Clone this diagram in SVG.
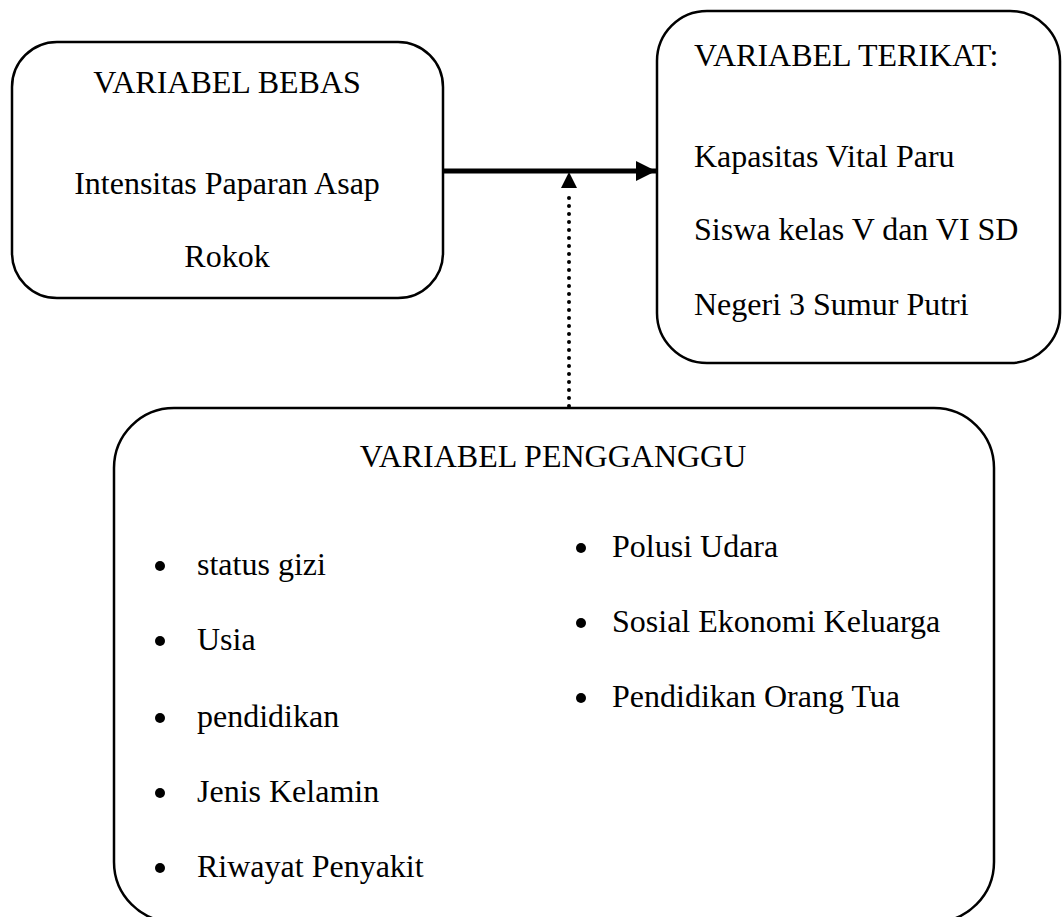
<svg xmlns="http://www.w3.org/2000/svg" width="1062" height="917" viewBox="0 0 1062 917">
<style>
.box{fill:#fff;stroke:#000;stroke-width:2.5}
text{font-family:"Liberation Serif","Times New Roman",serif;font-size:32px;fill:#000}
.c{text-anchor:middle}
.bul{fill:#000}
</style>
<defs>
<marker id="ah" viewBox="0 0 10 10" refX="10" refY="5" markerWidth="4" markerHeight="4" orient="auto" markerUnits="strokeWidth">
<path d="M0,0 L10,5 L0,10 Z" fill="#000"/>
</marker>
</defs>
<rect width="1062" height="917" fill="#fff"/>
<g id="connectors">
<line x1="443" y1="171" x2="656" y2="171" stroke="#000" stroke-width="5" marker-end="url(#ah)"/>
<line x1="569" y1="406" x2="569" y2="190" stroke="#000" stroke-width="4" stroke-linecap="round" stroke-dasharray="0 8"/>
<path d="M569,172 L577,188 L561,188 Z" fill="#000"/>
</g>
<g id="bebas">
<rect class="box" x="12" y="42" width="431" height="256" rx="45" ry="45"/>
<text class="c" x="227" y="93">VARIABEL BEBAS</text>
<text class="c" x="227" y="194">Intensitas Paparan Asap</text>
<text class="c" x="227" y="267">Rokok</text>
</g>
<g id="terikat">
<rect class="box" x="657" y="11" width="403" height="352" rx="50" ry="50"/>
<text x="694" y="66">VARIABEL TERIKAT:</text>
<text x="694" y="167">Kapasitas Vital Paru</text>
<text x="694" y="240">Siswa kelas V dan VI SD</text>
<text x="694" y="315">Negeri 3 Sumur Putri</text>
</g>
<g id="pengganggu">
<rect class="box" x="114" y="408" width="880" height="514" rx="60" ry="60"/>
<text class="c" x="553" y="467">VARIABEL PENGGANGGU</text>
<circle class="bul" cx="160" cy="566" r="5"/>
<text x="197" y="575">status gizi</text>
<circle class="bul" cx="160" cy="641" r="5"/>
<text x="197" y="650">Usia</text>
<circle class="bul" cx="160" cy="718" r="5"/>
<text x="197" y="727">pendidikan</text>
<circle class="bul" cx="160" cy="793" r="5"/>
<text x="197" y="802">Jenis Kelamin</text>
<circle class="bul" cx="160" cy="868" r="5"/>
<text x="197" y="877">Riwayat Penyakit</text>
<circle class="bul" cx="581" cy="548" r="5"/>
<text x="612" y="557">Polusi Udara</text>
<circle class="bul" cx="581" cy="623" r="5"/>
<text x="612" y="632">Sosial Ekonomi Keluarga</text>
<circle class="bul" cx="581" cy="698" r="5"/>
<text x="612" y="707">Pendidikan Orang Tua</text>
</g>
</svg>
